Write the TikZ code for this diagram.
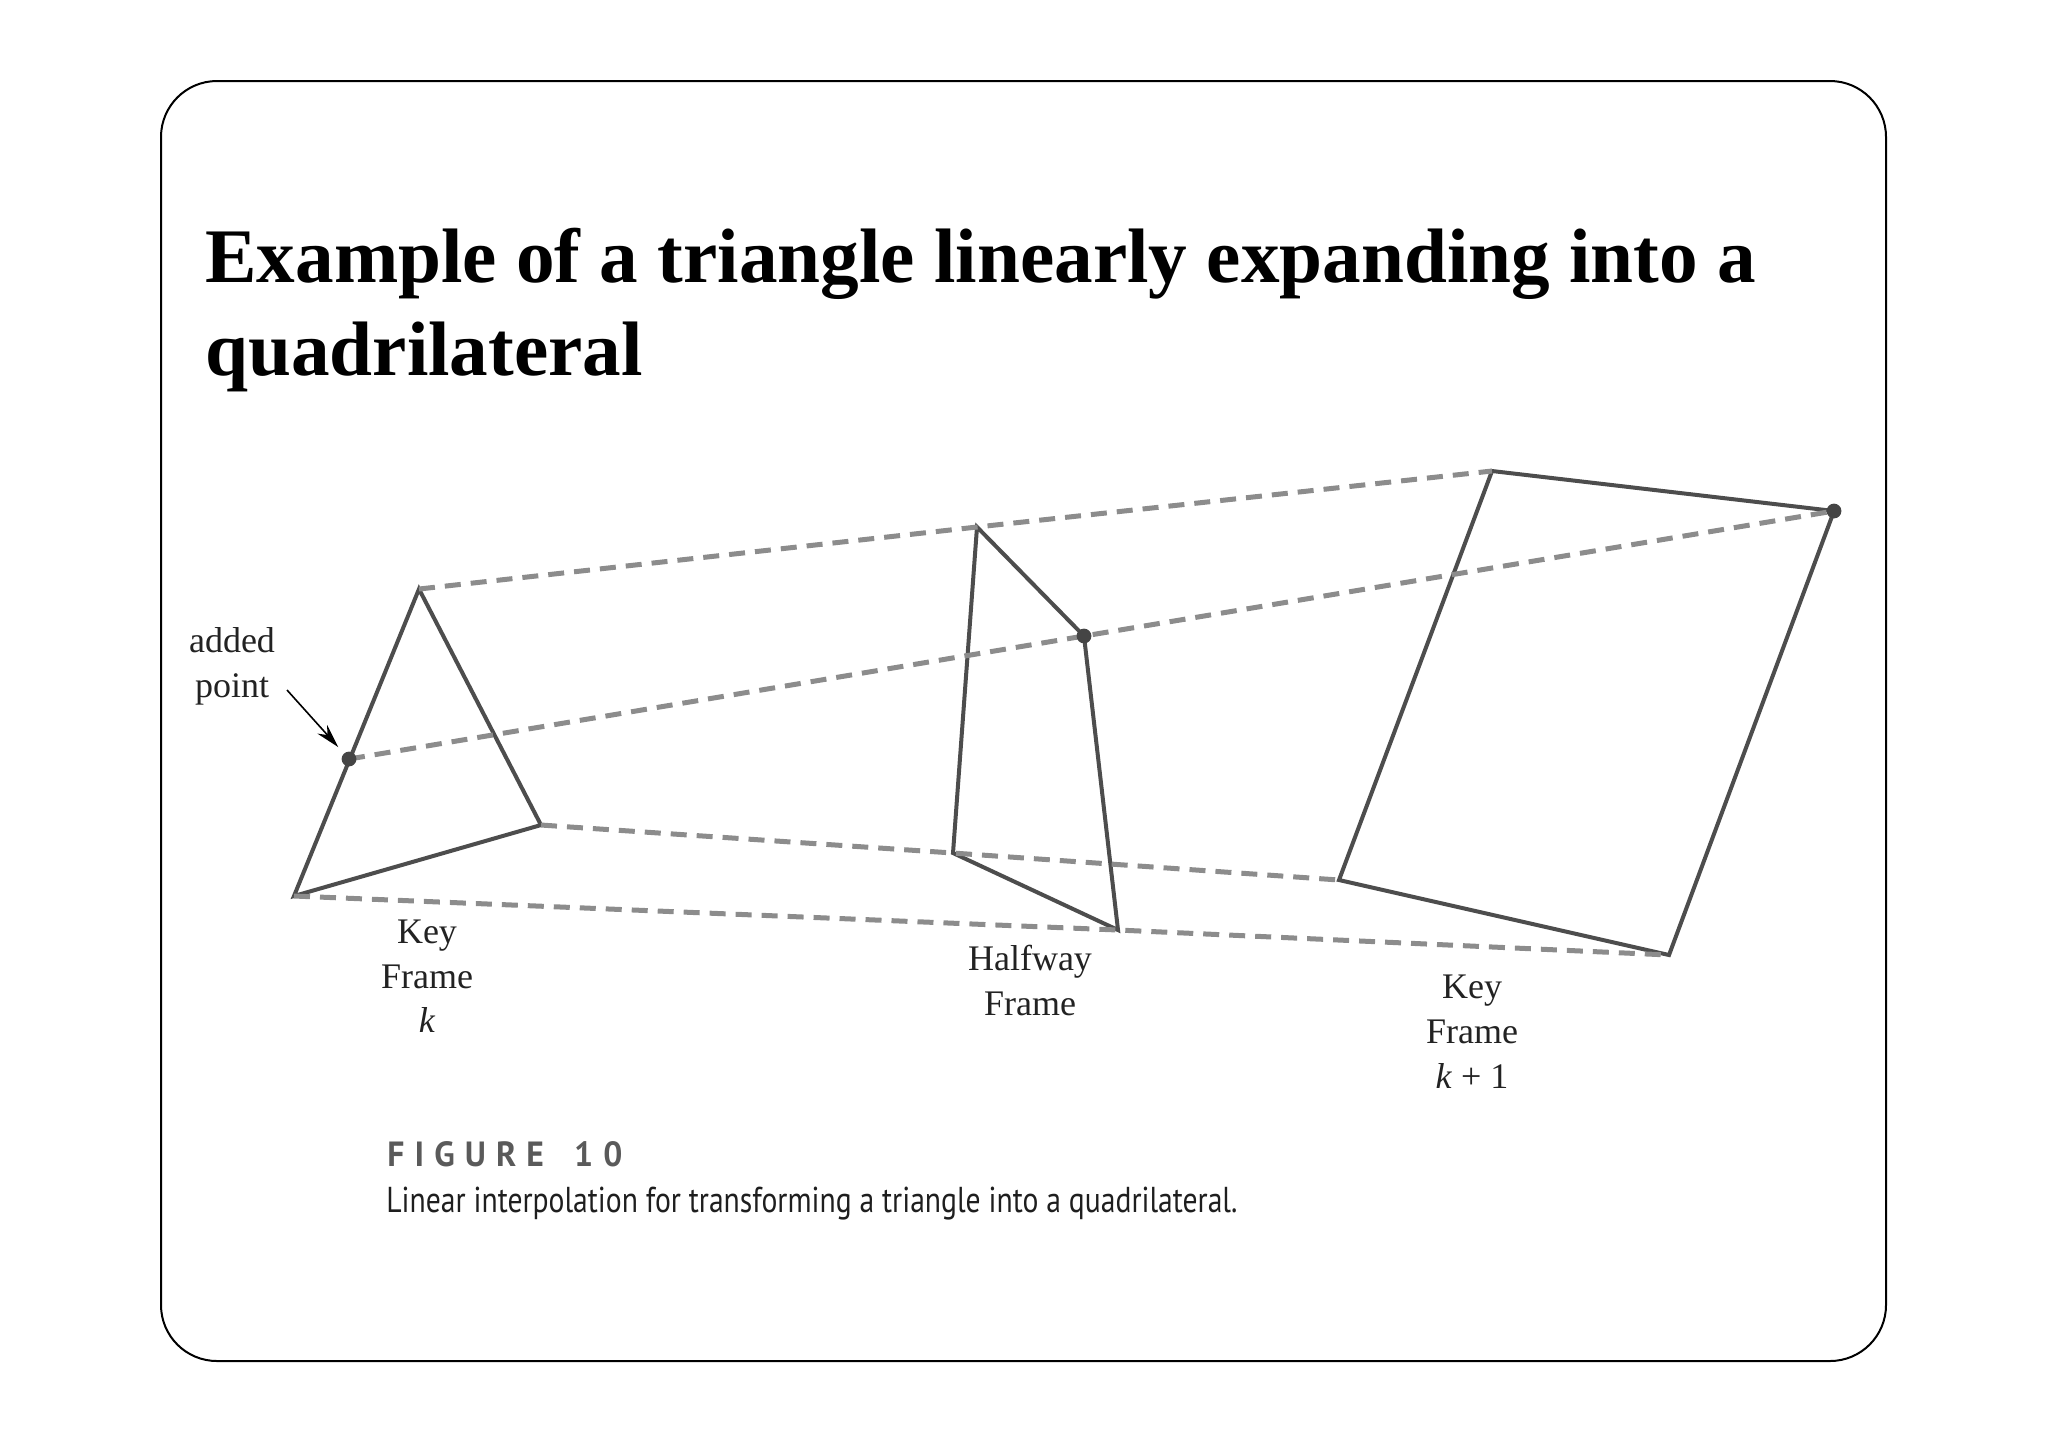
\documentclass[tikz,border=0pt]{standalone}
\usepackage{fontspec}
\usepackage{graphicx}
\setmainfont{Liberation Serif}
\newfontfamily\capfont{PT Sans}
\usetikzlibrary{arrows.meta}
\definecolor{solidc}{HTML}{4D4D4D}
\definecolor{dashc}{HTML}{8C8C8C}
\definecolor{dotc}{HTML}{454545}
\definecolor{figc}{HTML}{5A5A5A}
\definecolor{capc}{HTML}{1E1E1E}
\definecolor{lblc}{HTML}{222222}
\begin{document}
\begin{tikzpicture}[x=0.5pt,y=-0.5pt,
  edge/.style={draw=solidc,line width=2pt,line join=miter},
  guide/.style={draw=dashc,line width=2.5pt,dash pattern=on 8pt off 5pt},
  dotmark/.style={fill=dotc},
  lbl/.style={font=\fontsize{18}{22}\selectfont,text=lblc,inner sep=0pt,anchor=base},
  ttl/.style={font=\fontsize{38.6}{46}\selectfont\bfseries,inner sep=0pt,anchor=base west},
  pointer/.style={-{Stealth[length=12pt,width=6.5pt]},line width=0.8pt,draw=black}]
\useasboundingbox (0,0) rectangle (2048,1448);
% frame
\draw[line width=1pt,rounded corners=28pt] (161,81) rectangle (1886,1361);
% title
\node[ttl] (title1) at (205,282) {Example of a triangle linearly expanding into a};
\node[ttl] (title2) at (205,375) {quadrilateral};
% key frame k
\coordinate (t1) at (419,589);
\coordinate (t2) at (294,896);
\coordinate (t3) at (541,825);
\coordinate (pa) at (349,759);
% halfway frame
\coordinate (h1) at (977,527);
\coordinate (h2) at (1084,636);
\coordinate (h3) at (1118,930);
\coordinate (h4) at (953,853);
% key frame k+1
\coordinate (q1) at (1492,471);
\coordinate (q2) at (1834,511);
\coordinate (q3) at (1669,955);
\coordinate (q4) at (1339,880);
% shapes
\draw[edge] (t1) -- (t3) -- (t2) -- cycle;
\draw[edge] (h1) -- (h2) -- (h3) -- (h4) -- cycle;
\draw[edge] (q1) -- (q2) -- (q3) -- (q4) -- cycle;
% interpolation guides
\draw[guide] (t1) -- (h1) -- (q1);
\draw[guide] (pa) -- (h2) -- (q2);
\draw[guide] (t3) -- (h4) -- (q4);
\draw[guide] (t2) -- (h3) -- (q3);
% points
\fill[dotmark] (pa) circle (3.7pt);
\fill[dotmark] (h2) circle (3.7pt);
\fill[dotmark] (q2) circle (3.7pt);
% added point label
\node[lbl] (added1) at (232,652) {added};
\node[lbl] (added2) at (232,697) {point};
\coordinate (arrs) at (287,690);
\draw[pointer,shorten >=8pt] (arrs) -- (pa);
% frame labels
\node[lbl] (ka1) at (427,943) {Key};
\node[lbl] (ka2) at (427,988) {Frame};
\node[lbl] (ka3) at (427,1032) {\textit{k}};
\node[lbl] (hw1) at (1030,970) {Halfway};
\node[lbl] (hw2) at (1030,1015) {Frame};
\node[lbl] (kb1) at (1472,998) {Key};
\node[lbl] (kb2) at (1472,1043) {Frame};
\node[lbl] (kb3) at (1472,1088) {\textit{k} + 1};
% caption
\node[anchor=base west,inner sep=0pt,text=figc,font=\capfont\bfseries\fontsize{17.5}{20}\selectfont] (fig) at (387,1166)
  {\resizebox{117.5pt}{\height}{\addfontfeature{LetterSpace=30}FIGURE\hspace{0.9em}10}};
\node[anchor=base west,inner sep=0pt,text=capc,font=\capfont\fontsize{18}{20}\selectfont] (cap) at (386,1212)
  {\resizebox{425.5pt}{\height}{Linear interpolation for transforming a triangle into a quadrilateral.}};
\end{tikzpicture}
\end{document}
